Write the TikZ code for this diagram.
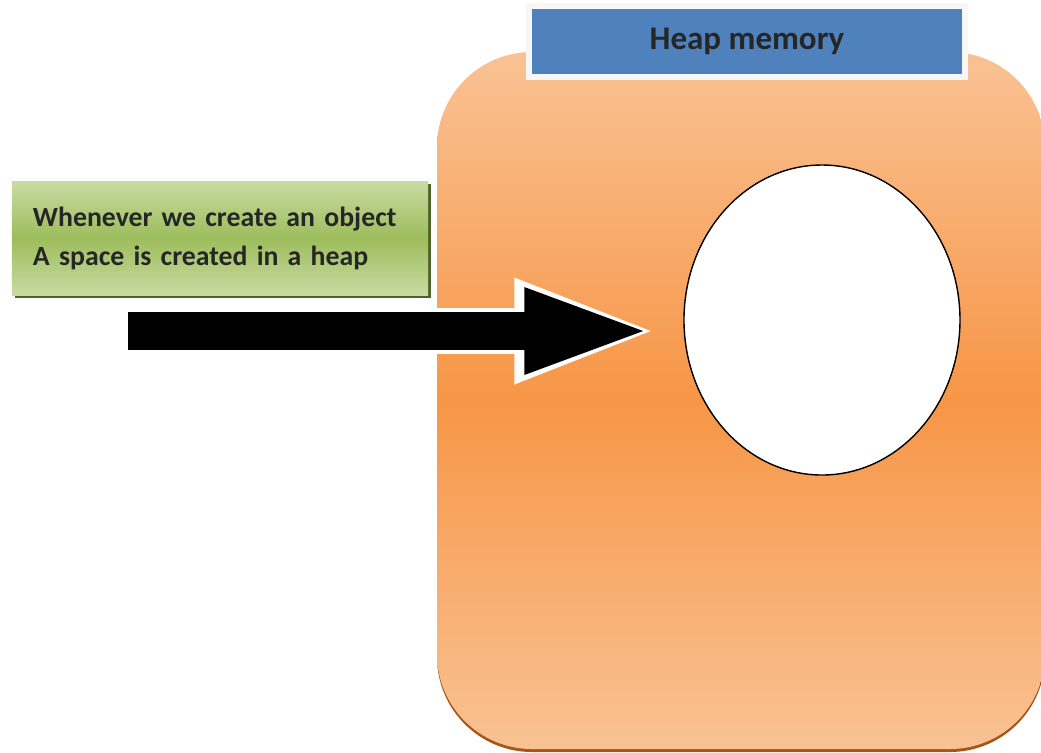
\documentclass[tikz,border=0pt]{standalone}
\usepackage{fontspec}
\setmainfont{Carlito}
\usetikzlibrary{positioning,shapes.geometric,shadows,arrows.meta}
\definecolor{heaplight}{HTML}{F9C294}
\definecolor{heapdark}{HTML}{F79646}
\definecolor{heapedge}{HTML}{A5561A}
\definecolor{notelight}{HTML}{C9DBA3}
\definecolor{notemid}{HTML}{9DBD5C}
\definecolor{noteedge}{HTML}{4F6228}
\definecolor{titleblue}{HTML}{4F81BD}

\begin{document}
\begin{tikzpicture}[
        heapbox/.style={rectangle, rounded corners=0.95cm, minimum width=6.08cm, minimum height=6.97cm, top color=heaplight, bottom color=heaplight, middle color=heapdark, drop shadow={shadow xshift=0cm, shadow yshift=-0.03cm, fill=heapedge, opacity=1}},
        titlebox/.style={rectangle, fill=titleblue, draw=white!94!gray, line width=0.06cm, minimum width=4.36cm, minimum height=0.71cm, text=black!85, font=\fontsize{9.4}{11}\selectfont\bfseries, drop shadow={shadow xshift=0.03cm, shadow yshift=-0.03cm, fill=gray, opacity=0.8}},
        notebox/.style={rectangle, top color=notelight, bottom color=notelight, middle color=notemid, minimum width=4.16cm, minimum height=1.14cm, text width=3.74cm, inner xsep=0.21cm, align=left, text=black!85, font=\fontsize{7.9}{11.1}\selectfont\bfseries, drop shadow={shadow xshift=0.03cm, shadow yshift=-0.03cm, fill=noteedge, opacity=1}},
        objoval/.style={ellipse, draw=black, fill=white, thin, minimum width=2.76cm, minimum height=3.10cm},
        arrowglow/.style={line width=0.46cm, white, -{Triangle[length=1.46cm, width=0.94cm]}, shorten >=0.23cm, shorten <=-0.04cm},
        blockarrow/.style={line width=0.38cm, black, -{Triangle[length=1.3cm, width=0.76cm]}, shorten >=0.29cm}
    ]
    \useasboundingbox (0, 0) rectangle (10.41, -7.52);

    % Heap area with its title
    \node[heapbox] (heap) at (7.41, -4.005) {};
    \node[titlebox] (title) at (7.47, -0.415) {Heap memory};

    % Object created inside the heap
    \node[objoval] (mem) at (8.22, -3.20) {};

    % Note on the left
    \node[notebox] (note) at (2.20, -2.38) {Whenever we create an object\\A space is created in a heap};

    % Arrow pointing at the object
    \coordinate (tail) at (1.28, -3.31);
    \draw[arrowglow] (tail) -- (tail -| mem.west);
    \draw[blockarrow] (tail) -- (tail -| mem.west);
\end{tikzpicture}
\end{document}
